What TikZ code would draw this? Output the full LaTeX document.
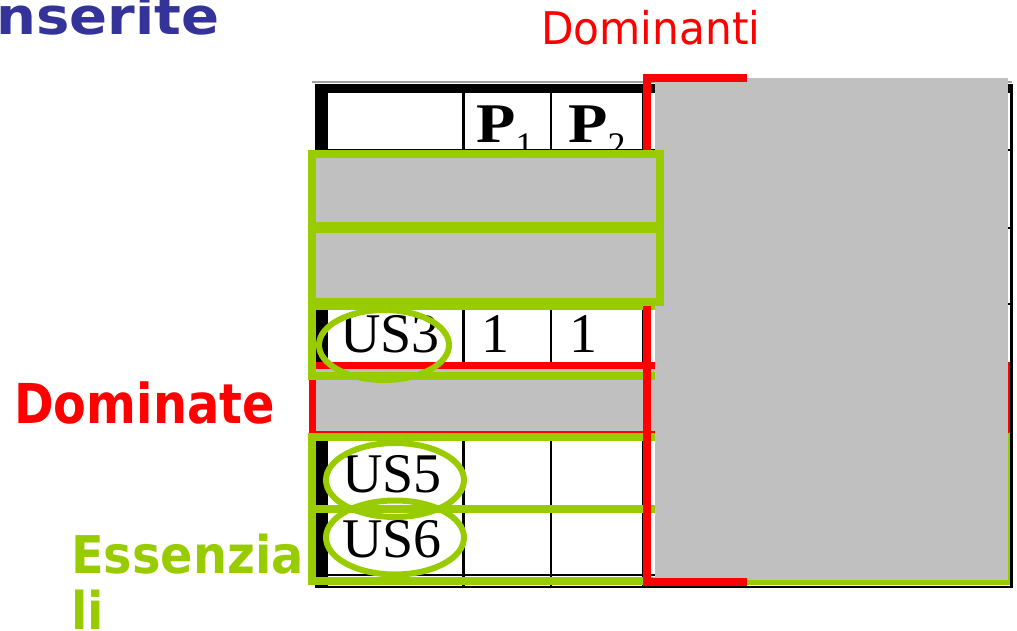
\documentclass[tikz,border=0pt]{standalone}
\usepackage{fontspec}
\setmainfont{Liberation Serif}
\newfontfamily\slidefont{DejaVu Sans}
\definecolor{titleblue}{HTML}{333399}
\definecolor{essgreen}{HTML}{99CC00}
\definecolor{covergray}{HTML}{C0C0C0}
\definecolor{rulegray}{HTML}{A0A0A0}

\begin{document}
\begin{tikzpicture}[x=1pt, y=-1pt, inner sep=0pt,
    cell/.style={anchor=base, font=\fontsize{56}{56}\selectfont},
    greenbox/.style={draw=essgreen, line width=8pt},
    greenring/.style={draw=essgreen, line width=6pt},
    slidelabel/.style={anchor=base west}]
    \useasboundingbox (0,0) rectangle (1017,631);
    \clip (0,0) rectangle (1017,631);

    % tabella
    \draw[rulegray, line width=2pt] (312,82) -- (1012,82);
    \fill (315,84) rectangle (1013,93);
    \fill (315,84) rectangle (328,587);
    \draw[line width=2pt] (315,587) -- (1013,587);
    \foreach \cX/\cW in {463.5/3pt, 551/2pt, 643.5/3pt}
        \draw[line width=\cW] (\cX,93) -- (\cX,586);
    \foreach \cY in {150, 228, 304, 365, 436, 508, 575}
        \draw[line width=1.5pt] (328,\cY) -- (1010,\cY);

    \node[cell] (p1) at (505,143) {\textbf{\scalebox{1.15}[1]{P}}\raisebox{-15pt}{\fontsize{36}{36}\selectfont 1}};
    \node[cell] (p2) at (597,143) {\textbf{\scalebox{1.15}[1]{P}}\raisebox{-15pt}{\fontsize{36}{36}\selectfont 2}};
    \node[cell] (us3) at (390,352) {US3};
    \node[cell] (us3a) at (495,352) {1};
    \node[cell] (us3b) at (583,352) {1};
    \node[cell] (us5) at (392,492) {US5};
    \node[cell] (us6) at (392,557) {US6};

    % dominate
    \draw[red, line width=7pt] (312,365) rectangle (1007,434);
    \fill[covergray] (316,369) rectangle (1003,431);
    \draw[greenbox] (312,306) rectangle (660,376);
    \draw[greenring] (384,345) ellipse (65 and 35);

    % essenziali
    \draw[greenbox] (312,436.5) rectangle (1006,509);
    \draw[greenbox] (312,509) rectangle (1006,581);
    \draw[greenring] (395,480) ellipse (69 and 37);
    \draw[greenring] (395,537.5) ellipse (69 and 37);

    % dominanti
    \fill[covergray] (655,78) rectangle (1008,580);
    \fill (1010,84) rectangle (1013,588);
    \draw[red, line width=8pt] (747,78) -- (647,78) -- (647,582) -- (747,582);

    % righe coperte
    \draw[greenbox, fill=covergray] (312,154) rectangle (660,226);
    \draw[greenbox, fill=covergray] (312,229) rectangle (660,302);

    \node[slidelabel, text=titleblue, font=\slidefont\bfseries\fontsize{51}{51}\selectfont] (title) at (-25,35) {\scalebox{1.1}[1]{Inserite}};
    \node[slidelabel, text=red, font=\slidefont\fontsize{45}{45}\selectfont] (dominanti) at (541,45) {\scalebox{0.94}[1]{Dominanti}};
    \node[slidelabel, text=red, font=\slidefont\bfseries\fontsize{55}{55}\selectfont] (dominate) at (14,423) {\scalebox{0.87}[1]{Dominate}};
    \node[slidelabel, text=essgreen, font=\slidefont\bfseries\fontsize{52}{52}\selectfont] (essenzia) at (71,573) {\scalebox{0.92}[1]{Essenzia}};
    \node[slidelabel, text=essgreen, font=\slidefont\bfseries\fontsize{52}{52}\selectfont] (essli) at (71,629.5) {\scalebox{0.92}[1]{li}};
\end{tikzpicture}
\end{document}
